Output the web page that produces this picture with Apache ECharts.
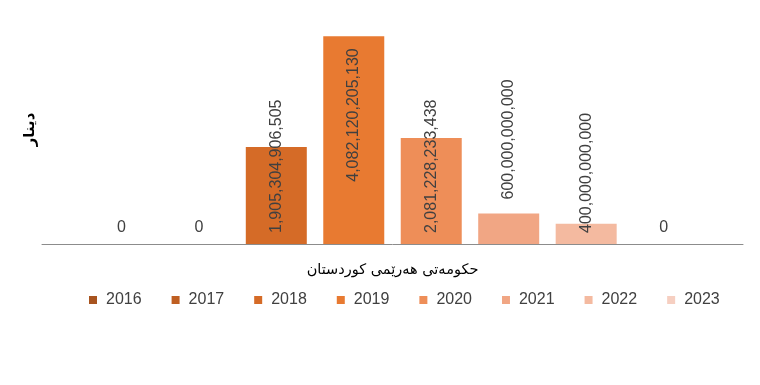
<!DOCTYPE html>
<html>
<head>
<meta charset="utf-8">
<script src="https://cdn.jsdelivr.net/npm/echarts@6/dist/echarts.min.js"></script>
<style>html,body{margin:0;padding:0;background:#fff}#c{width:760px;height:385px}</style>
</head>
<body>
<div id="c"></div>
<script>
var categories = ['حکومەتی هەرێمی کوردستان'];
var years = ['2016', '2017', '2018', '2019', '2020', '2021', '2022', '2023'];
var values = [0, 0, 1905304906505, 4082120205130, 2081228233438, 600000000000, 400000000000, 0];
var yAxisName = 'دینار';

var colors = ['#A8541F', '#BF5F22', '#D56B27', '#E87A31', '#EE8E58', '#F1A684', '#F4BAA0', '#F6CFC1'];
// label placement style per series (mimics the reference)
var labelModes = ['zero', 'zero', 'insideBottom', 'insideTop', 'insideBottom', 'outside', 'insideBottom', 'zero'];

function fmt(v) { return Number(v).toLocaleString('en-US'); }

function labelFor(mode) {
  var base = { show: true, color: '#404040', fontSize: 16, fontFamily: 'Liberation Sans, Arial, sans-serif', formatter: function (p) { return fmt(p.value); } };
  if (mode === 'zero') { base.position = 'top'; base.distance = 8; }
  else if (mode === 'insideBottom') { base.position = 'insideBottom'; base.rotate = 90; base.align = 'left'; base.verticalAlign = 'middle'; base.distance = 11; }
  else if (mode === 'insideTop') { base.position = 'insideTop'; base.rotate = 90; base.align = 'right'; base.verticalAlign = 'middle'; base.distance = 12; }
  else { base.position = 'top'; base.rotate = 90; base.align = 'left'; base.verticalAlign = 'middle'; base.distance = 14; }
  return base;
}

var series = years.map(function (y, i) {
  return {
    name: y, type: 'bar', data: [values[i]],
    barWidth: 61, barGap: '27%',
    itemStyle: { color: colors[i] },
    label: labelFor(labelModes[i])
  };
});

var chart = echarts.init(document.getElementById('c'), null, { renderer: 'canvas' });
chart.setOption({
  animation: false,
  color: colors,
  grid: { left: 42, right: 17, top: 15, bottom: 141, containLabel: false },
  legend: {
    data: years, bottom: 72, left: 84, itemWidth: 8, itemHeight: 8, itemGap: 30, icon: 'rect',
    textStyle: { fontSize: 16, color: '#404040', fontFamily: 'Liberation Sans, Arial, sans-serif', padding: [0, 0, 0, 4] }
  },
  xAxis: {
    type: 'category', data: categories,
    axisLine: { lineStyle: { color: '#8c8c8c', width: 1 } },
    axisTick: { show: false },
    axisLabel: { fontSize: 14.5, color: '#000', margin: 19, fontFamily: 'DejaVu Sans, sans-serif' }
  },
  yAxis: {
    type: 'value', min: 0, max: 4500000000000,
    name: yAxisName, nameLocation: 'middle', nameRotate: 90, nameGap: 4,
    nameTextStyle: { fontSize: 15, fontWeight: 'bold', color: '#000', fontFamily: 'DejaVu Sans, sans-serif' },
    axisLine: { show: false }, axisTick: { show: false }, axisLabel: { show: false }, splitLine: { show: false }
  },
  series: series
});
</script>
</body>
</html>
